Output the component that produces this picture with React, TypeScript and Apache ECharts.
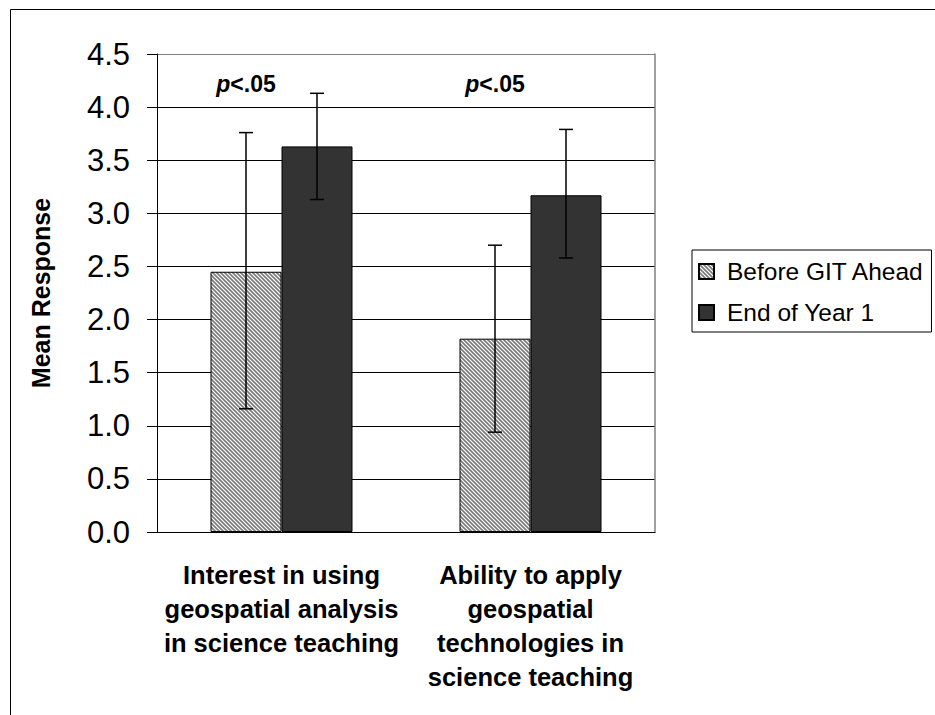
import React, { useEffect, useRef } from "react";
import * as echarts from "echarts";

const categories = [
  "Interest in using\ngeospatial analysis\nin science teaching",
  "Ability to apply\ngeospatial\ntechnologies in\nscience teaching",
];
const seriesNames = ["Before GIT Ahead", "End of Year 1"];
const beforeValues = [2.45, 1.82];
const endValues = [3.63, 3.17];
const beforeLow = [1.16, 0.94];
const beforeHigh = [3.76, 2.7];
const endLow = [3.13, 2.58];
const endHigh = [4.13, 3.79];
const pLabels = ["p<.05", "p<.05"];
const pLabelLevel = [4.22, 4.22];
const yTicks = { min: 0, max: 4.5, interval: 0.5 };

const BAR_W = 71;
const FONT = "Liberation Sans";

function makeHatch(): HTMLCanvasElement {
  const s = 4;
  const c = document.createElement("canvas");
  c.width = s;
  c.height = s;
  const ctx = c.getContext("2d")!;
  ctx.fillStyle = "#ffffff";
  ctx.fillRect(0, 0, s, s);
  ctx.strokeStyle = "#7a7a7a";
  ctx.lineWidth = 1.6;
  ctx.beginPath();
  ctx.moveTo(-1, -1);
  ctx.lineTo(s + 1, s + 1);
  ctx.moveTo(-s - 1, -1);
  ctx.lineTo(1, s + 1);
  ctx.moveTo(-1, -s - 1);
  ctx.lineTo(s + 1, 1);
  ctx.stroke();
  return c;
}

function errorSeries(name: string, low: number[], high: number[], offset: number) {
  return {
    type: "custom",
    name: name + " error",
    z: 5,
    clip: false,
    silent: true,
    data: low.map((l, i) => [i, l, high[i]]),
    encode: { x: 0, y: [1, 2] },
    renderItem: (params: any, api: any) => {
      const x = api.value(0);
      const lo = api.coord([x, api.value(1)]);
      const hi = api.coord([x, api.value(2)]);
      const cx = lo[0] + offset;
      const cap = 7;
      const st = { stroke: "#000", lineWidth: 1.5 };
      return {
        type: "group",
        children: [
          { type: "line", shape: { x1: cx, y1: lo[1], x2: cx, y2: hi[1] }, style: st },
          { type: "line", shape: { x1: cx - cap, y1: lo[1], x2: cx + cap, y2: lo[1] }, style: st },
          { type: "line", shape: { x1: cx - cap, y1: hi[1], x2: cx + cap, y2: hi[1] }, style: st },
        ],
      };
    },
  };
}

export default function App() {
  const ref = useRef<HTMLDivElement>(null);
  useEffect(() => {
    document.body.style.margin = "0";
    if (!ref.current) return;
    const chart = echarts.init(ref.current, undefined, { renderer: "svg" });
    const hatch = makeHatch();
    const splitColors = Array.from({ length: 9 }, () => "#000").concat(["#808080"]);
    chart.setOption({
      animation: false,
      backgroundColor: "#fff",
      graphic: [
        {
          type: "rect",
          shape: { x: 10.5, y: 9.5, width: 1000, height: 1000 },
          style: { fill: "none", stroke: "#000", lineWidth: 1 },
          silent: true,
        },
      ],
      legend: {
        orient: "vertical",
        left: 692,
        top: 250,
        padding: [9, 7, 7, 6],
        itemGap: 16,
        itemWidth: 15,
        itemHeight: 15,
        icon: "rect",
        borderColor: "#000",
        borderWidth: 1,
        data: seriesNames,
        textStyle: {
          fontFamily: FONT,
          fontSize: 24.5,
          color: "#000",
          lineHeight: 24,
          padding: [0, 0, 0, 8],
        },
      },
      grid: { left: 157, top: 54, width: 498, height: 478, containLabel: false },
      xAxis: {
        type: "category",
        data: categories,
        axisLine: { lineStyle: { color: "#000", width: 1 } },
        axisTick: { length: 9, lineStyle: { color: "#000" } },
        axisLabel: {
          interval: 0,
          margin: 26,
          color: "#000",
          fontFamily: FONT,
          fontWeight: "bold",
          fontSize: 25.5,
          lineHeight: 34,
          align: "center",
        },
      },
      yAxis: [
        {
          type: "value",
          min: yTicks.min,
          max: yTicks.max,
          interval: yTicks.interval,
          name: "Mean Response",
          nameLocation: "middle",
          nameGap: 104,
          nameTextStyle: { fontFamily: FONT, fontWeight: "bold", fontSize: 25, color: "#000" },
          axisLine: { show: true, lineStyle: { color: "#000" } },
          axisTick: { show: true, length: 10, lineStyle: { color: "#000" } },
          axisLabel: {
            margin: 27,
            color: "#000",
            fontFamily: FONT,
            fontSize: 31,
            formatter: (v: number) => v.toFixed(1),
          },
          splitLine: { show: true, lineStyle: { color: splitColors, width: 1 } },
        },
        {
          type: "value",
          position: "right",
          min: yTicks.min,
          max: yTicks.max,
          interval: yTicks.interval,
          axisLine: { show: true, lineStyle: { color: "#808080", width: 1.5 } },
          axisTick: { show: false },
          axisLabel: { show: false },
          splitLine: { show: false },
        },
      ],
      series: [
        {
          type: "bar",
          name: seriesNames[0],
          data: beforeValues,
          barWidth: BAR_W,
          barGap: "0%",
          itemStyle: {
            color: { image: hatch, repeat: "repeat" },
            borderColor: "#000",
            borderWidth: 1,
          },
        },
        {
          type: "bar",
          name: seriesNames[1],
          data: endValues,
          barWidth: BAR_W,
          barGap: "0%",
          itemStyle: { color: "#333333", borderColor: "#000", borderWidth: 1 },
        },
        errorSeries(seriesNames[0], beforeLow, beforeHigh, -BAR_W / 2),
        errorSeries(seriesNames[1], endLow, endHigh, BAR_W / 2),
        {
          type: "custom",
          name: "significance",
          z: 6,
          clip: false,
          silent: true,
          data: pLabels.map((t, i) => [i, pLabelLevel[i]]),
          encode: { x: 0, y: 1 },
          renderItem: (params: any, api: any) => {
            const i = params.dataIndex;
            const pt = api.coord([api.value(0), api.value(1)]);
            const txt = pLabels[i];
            return {
              type: "text",
              x: pt[0] - BAR_W / 2,
              y: pt[1],
              style: {
                text: "{i|" + txt.slice(0, 1) + "}{n|" + txt.slice(1) + "}",
                align: "center",
                verticalAlign: "middle",
                rich: {
                  i: {
                    fontFamily: FONT,
                    fontWeight: "bold",
                    fontStyle: "italic",
                    fontSize: 23,
                    fill: "#000",
                  },
                  n: {
                    fontFamily: FONT,
                    fontWeight: "bold",
                    fontSize: 23,
                    fill: "#000",
                  },
                },
              },
            };
          },
        },
      ],
    });
    return () => chart.dispose();
  }, []);
  return <div ref={ref} style={{ width: 935, height: 715 }} />;
}
